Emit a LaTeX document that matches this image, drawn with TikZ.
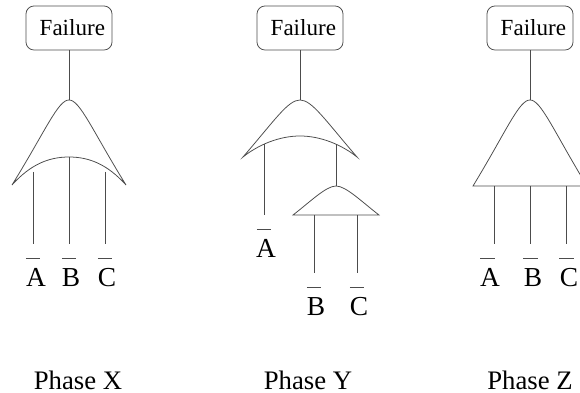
\documentclass[tikz,border=0pt]{standalone}
\usepackage{fontspec}
\setmainfont{Liberation Serif}
\definecolor{qline}{gray}{0.3}
\tikzset{
  gate/.style={draw=qline, line width=0.55pt},
  failbox/.style={draw=qline, line width=0.55pt, rounded corners=0.2cm, minimum height=1.1cm, text width=1.8cm, align=right, inner xsep=0.175cm, inner ysep=0pt, font=\fontsize{16.4}{18}\selectfont},
  letter/.style={anchor=base, inner sep=0pt, font=\fontsize{19.5}{21}\selectfont},
  phase/.style={anchor=base, inner sep=0pt, font=\fontsize{19}{21}\selectfont}
}
\begin{document}
\begin{tikzpicture}[x=0.025cm,y=-0.025cm]

\clip (0,0) rectangle (580,393);

%top events:
\node[failbox] (failX) at (69,28) {Failure};
\node[failbox] (failY) at (300,28) {Failure};
\node[failbox] (failZ) at (530,28) {Failure};

\coordinate (topX) at (69,100);
\coordinate (topY) at (300,100);
\coordinate (topZ) at (530,100);
\coordinate (topS) at (336,186);
\coordinate (outY) at (336,144);

\draw[gate] (failX) -- (topX);
\draw[gate] (failY) -- (topY);
\draw[gate] (failZ) -- (topZ);

%phase X, or gate
\draw[gate] (topX) .. controls (58,100) and (46,130) .. (12,185)
  .. controls (30,165) and (48,157) .. (69,157)
  .. controls (90,157) and (108,165) .. (126,185)
  .. controls (92,130) and (80,100) .. (topX);

%phase Y, or gate
\draw[gate] (topY) .. controls (288,100) and (275,120) .. (243,157)
  .. controls (258,145) and (279,136) .. (300,136)
  .. controls (321,136) and (342,145) .. (357,157)
  .. controls (325,120) and (312,100) .. (topY);
%phase Y, and gate
\draw[gate] (topS) .. controls (326,186) and (310,202) .. (293,215)
  -- (379,215)
  .. controls (362,202) and (346,186) .. (topS);
\draw[gate] (outY) -- (topS);

%phase Z, and gate
\draw[gate] (topZ) .. controls (519,100) and (507,130) .. (473,186)
  -- (587,186)
  .. controls (553,130) and (541,100) .. (topZ);

%inputs: name, line x, line top, line bottom, bar x, letter x, letter baseline, text
\foreach \nm/\lx/\lt/\lb/\bx/\tx/\ty/\tl in {
  xA/33/172/244/33/36/287/A, xB/69/157/244/69/71/287/B, xC/105/172/244/105/107/287/C,
  yA/264/144/215/264/266/258/A, yB/314/215/273/314/316/316/B, yC/357/215/273/357/359/316/C,
  zA/494.5/186/244/487.5/490/287/A, zB/530/186/244/530.5/533/287/B, zC/566.5/186/244/566.5/569/287/C}
{
  \coordinate (\nm t) at (\lx,\lt);
  \coordinate (\nm b) at (\lx,\lb);
  \draw[gate] (\nm t) -- (\nm b);
  \node[letter] (\nm) at (\tx,\ty) {\tl};
  \draw[gate] (\bx-7.2,\ty-29) -- (\bx+7.2,\ty-29);
}

%phase names
\node[phase] (phX) at (78,389) {Phase X};
\node[phase] (phY) at (308,389) {Phase Y};
\node[phase] (phZ) at (530,389) {Phase Z};

\end{tikzpicture}
\end{document}
